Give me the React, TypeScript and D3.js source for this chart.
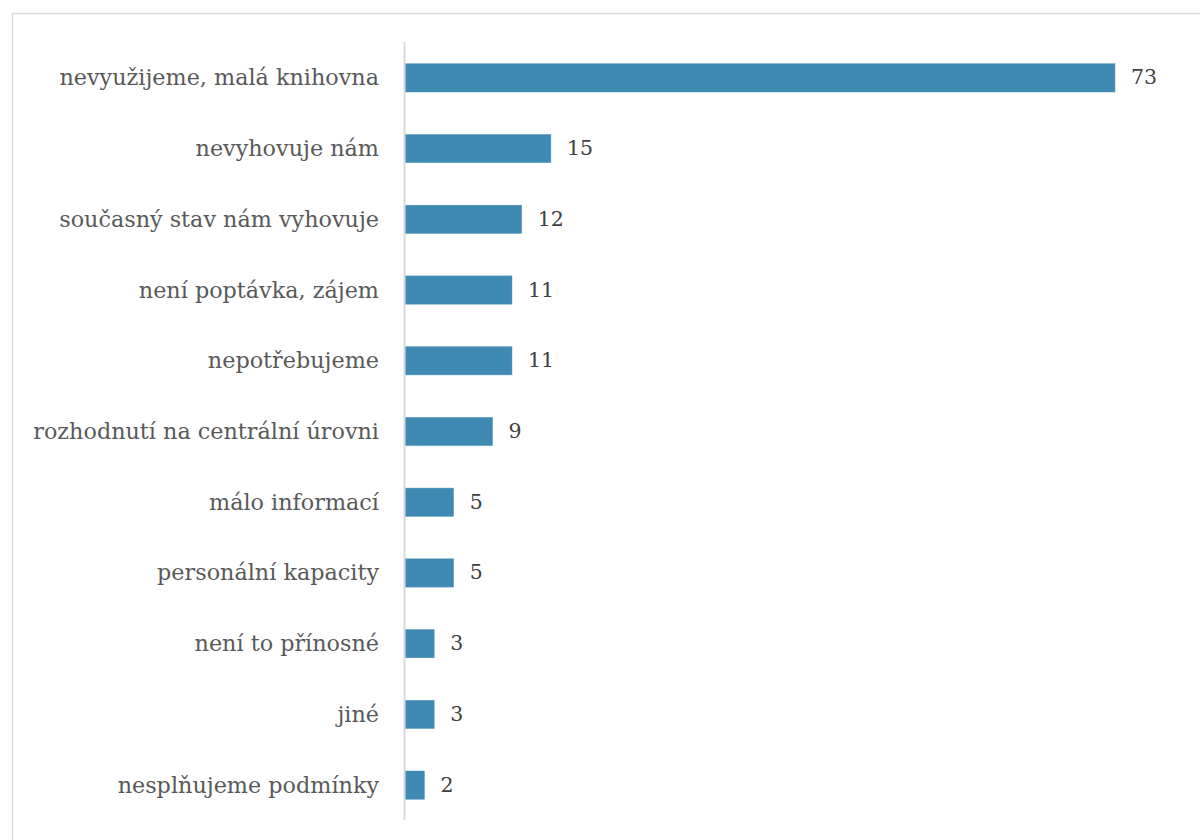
import React from "react";
import * as d3 from "d3";

const categories = [
  "nevyužijeme, malá knihovna",
  "nevyhovuje nám",
  "současný stav nám vyhovuje",
  "není poptávka, zájem",
  "nepotřebujeme",
  "rozhodnutí na centrální úrovni",
  "málo informací",
  "personální kapacity",
  "není to přínosné",
  "jiné",
  "nesplňujeme podmínky",
];
const values = [73, 15, 12, 11, 11, 9, 5, 5, 3, 3, 2];

export default function App() {
  const W = 1200, H = 840;
  const x0 = 404;
  const x = d3.scaleLinear().domain([0, 73]).range([x0, 1114]);
  const y = d3.scaleBand<string>().domain(categories).range([42, 820]).paddingInner(0.6).paddingOuter(0.3);
  const font = "'DejaVu Serif', serif";
  return (
    <svg width={W} height={H} style={{ position: "absolute", left: 0, top: 0 }}>
      <rect x={0} y={0} width={W} height={H} fill="#fff" />
      <rect x={12.5} y={13.5} width={1200} height={840} fill="none" stroke="#d9d9d9" strokeWidth={1.5} />
      {categories.map((c, i) => (
        <g key={c}>
          <rect x={x(0) + 1} y={y(c)! + 0.5} width={x(values[i]) - x(0)} height={y.bandwidth()} fill="#3f8ab3" stroke="#5a9ac0" strokeWidth={0.5} />
          <text x={x0 - 25} y={y(c)! + y.bandwidth() / 2} textAnchor="end" dominantBaseline="central" fontFamily={font} fontSize={22.3} fill="#595959">{c}</text>
          <text x={x(values[i]) + 17} y={y(c)! + y.bandwidth() / 2} dominantBaseline="central" fontFamily={font} fontSize={20.5} fill="#404040">{values[i]}</text>
        </g>
      ))}
      <line x1={x0 + 0.5} x2={x0 + 0.5} y1={42} y2={820} stroke="#d9d9d9" strokeWidth={2} />
    </svg>
  );
}
